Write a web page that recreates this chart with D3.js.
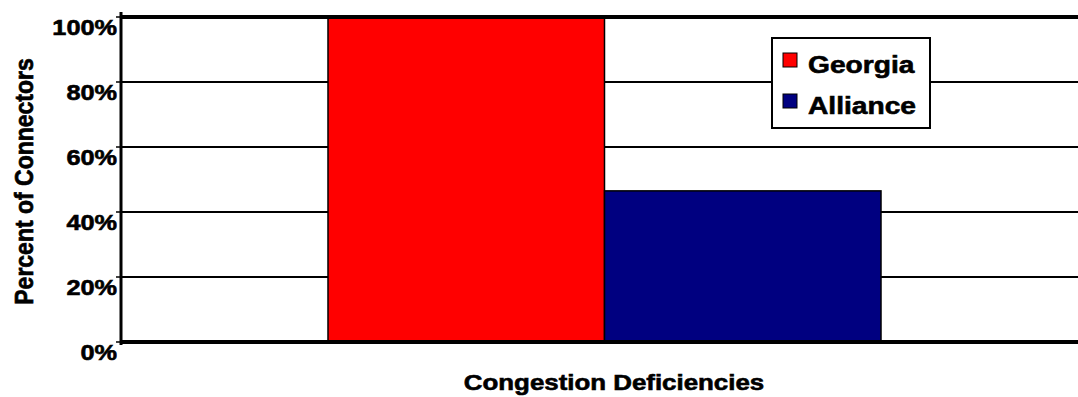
<!DOCTYPE html>
<html>
<head>
<meta charset="utf-8">
<script src="https://cdn.jsdelivr.net/npm/d3@7"></script>
<style>
  html, body { margin: 0; padding: 0; background: #fff; }
  svg { display: block; font-family: "Liberation Sans", Arial, sans-serif; font-weight: bold; }
  svg text { fill: #000; stroke: #000; stroke-width: 0.6px; paint-order: stroke; }
</style>
</head>
<body>
<svg id="chart" width="1078" height="397"></svg>
<script>
// Chart data
const categories = ["Congestion Deficiencies"];
const seriesNames = ["Georgia", "Alliance"];
const seriesValues = [100, 46.5];
const seriesColors = ["#ff0000", "#000080"];
const tickValues = [0, 20, 40, 60, 80, 100];
const tickLabels = ["0%", "20%", "40%", "60%", "80%", "100%"];

// Text is drawn slightly wider than tall
const stretch = 1.15;

const svg = d3.select("#chart");
const plot = { left: 121, right: 1078, top: 17, bottom: 342 };

const y = d3.scaleLinear().domain([0, 100]).range([plot.bottom, plot.top]);
const x0 = d3.scaleBand().domain(categories).range([plot.left, 1088])
  .paddingInner(0).paddingOuter(0.3743);
const x1 = d3.scaleBand().domain(seriesNames).range([0, x0.bandwidth()]).padding(0);

// Gridlines (interior ones thin, under the bars)
svg.append("g").selectAll("line")
  .data(tickValues.filter(v => v !== 0 && v !== 100))
  .join("line")
  .attr("x1", plot.left).attr("x2", plot.right)
  .attr("y1", d => y(d)).attr("y2", d => y(d))
  .attr("stroke", "#000").attr("stroke-width", 2);

// Bars
const rows = seriesNames.map((s, i) => ({ cat: categories[0], name: s, value: seriesValues[i], color: seriesColors[i] }));
svg.append("g").selectAll("rect")
  .data(rows)
  .join("rect")
  .attr("x", d => x0(d.cat) + x1(d.name))
  .attr("y", d => y(d.value))
  .attr("width", x1.bandwidth())
  .attr("height", d => y(0) - y(d.value))
  .attr("fill", d => d.color)
  .attr("stroke", "#000").attr("stroke-width", 1.5);

// Heavy top and baseline rules
svg.append("g").selectAll("line")
  .data([0, 100])
  .join("line")
  .attr("x1", plot.left).attr("x2", plot.right)
  .attr("y1", d => y(d)).attr("y2", d => y(d))
  .attr("stroke", "#000").attr("stroke-width", 4);

// Y axis line and ticks
svg.append("line")
  .attr("x1", plot.left).attr("x2", plot.left)
  .attr("y1", 12).attr("y2", 345)
  .attr("stroke", "#000").attr("stroke-width", 3);

svg.append("g").selectAll("line")
  .data(tickValues)
  .join("line")
  .attr("x1", plot.left - 5).attr("x2", plot.left)
  .attr("y1", d => y(d)).attr("y2", d => y(d))
  .attr("stroke", "#000").attr("stroke-width", 1.5);

// Tick labels
svg.append("g").selectAll("text")
  .data(tickValues)
  .join("text")
  .attr("transform", d => `translate(117,${y(d) + 18}) scale(${stretch},1)`)
  .attr("text-anchor", "end")
  .attr("font-size", 22)
  .text((d, i) => tickLabels[i]);

// Axis titles
svg.append("text")
  .attr("transform", `translate(614,390) scale(${stretch},1)`)
  .attr("text-anchor", "middle")
  .attr("font-size", 22.5)
  .text("Congestion Deficiencies");

svg.append("text")
  .attr("transform", `translate(33,181.5) scale(${stretch},1) rotate(-90)`)
  .attr("text-anchor", "middle")
  .attr("font-size", 23)
  .text("Percent of Connectors");

// Legend
const legend = svg.append("g");
legend.append("rect")
  .attr("x", 772).attr("y", 38).attr("width", 158).attr("height", 90)
  .attr("fill", "#fff").attr("stroke", "#000").attr("stroke-width", 2);

const items = legend.selectAll("g.item")
  .data(rows)
  .join("g")
  .attr("class", "item")
  .attr("transform", (d, i) => `translate(0,${i * 41})`);

items.append("rect")
  .attr("x", 783).attr("y", 53).attr("width", 14).attr("height", 14)
  .attr("fill", d => d.color).attr("stroke", "#000").attr("stroke-width", 1);

items.append("text")
  .attr("transform", `translate(808,73) scale(${stretch},1)`)
  .attr("font-size", 24.5)
  .text(d => d.name);
</script>
</body>
</html>
